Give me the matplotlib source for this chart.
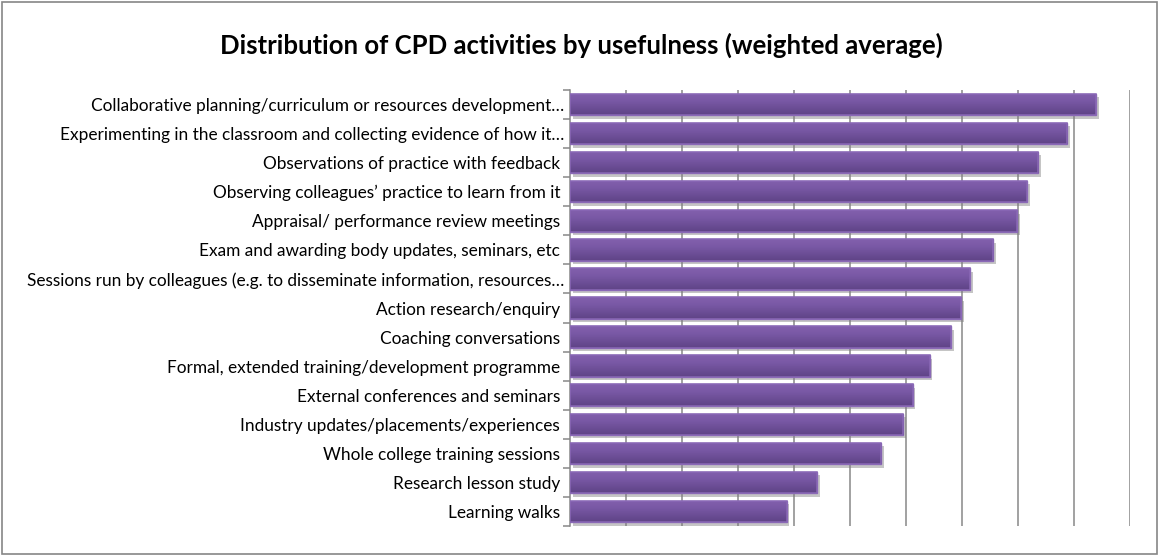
import numpy as np
import matplotlib
matplotlib.use("Agg")
import matplotlib.pyplot as plt
import matplotlib.patheffects as pe
from matplotlib.colors import LinearSegmentedColormap
from matplotlib.patches import Rectangle

plt.rcParams["font.family"] = ["Lato", "DejaVu Sans"]

# ── data (top to bottom as shown) ────────────────────────────────────────────
activities = [
    "Collaborative planning/curriculum or resources development\u2026",
    "Experimenting in the classroom and collecting evidence of how it\u2026",
    "Observations of practice with feedback ",
    "Observing colleagues\u2019 practice to learn from it ",
    "Appraisal/ performance review meetings ",
    "Exam and awarding body updates, seminars, etc ",
    "Sessions run by colleagues (e.g. to disseminate information, resources\u2026",
    "Action research/enquiry ",
    "Coaching conversations ",
    "Formal, extended training/development programme ",
    "External conferences and seminars ",
    "Industry updates/placements/experiences ",
    "Whole college training sessions ",
    "Research lesson study ",
    "Learning walks ",
]
weighted_avg = [9.39, 8.88, 8.36, 8.16, 7.98, 7.56, 7.14, 6.98, 6.80,
                6.42, 6.12, 5.95, 5.56, 4.41, 3.87]

W, H = 1158, 555
fig = plt.figure(figsize=(W / 100, H / 100), dpi=100)
fig.patch.set_facecolor("white")

# chart border
fig.add_artist(Rectangle((1.5 / W, 1.5 / H), 1 - 3 / W, 1 - 3 / H,
                         transform=fig.transFigure, fill=False,
                         edgecolor="#868686", linewidth=1.2))

ax = fig.add_axes([570 / W, (H - 526) / H, 560 / W, 436 / H])

y = np.arange(len(activities))
bars = ax.barh(y, weighted_avg, height=0.74, color="#7453a0",
               edgecolor="#8d6db8", linewidth=1.0, zorder=3)

# soft drop shadow + vertical gradient inside each bar (light on top)
grad = LinearSegmentedColormap.from_list(
    "purp", ["#5f4386", "#6c4e96", "#7a59a6", "#8260ad"])
gimg = np.linspace(1, 0, 64).reshape(-1, 1)
for b in bars:
    b.set_path_effects([pe.SimplePatchShadow(offset=(2, -2.5), shadow_rgbFace="#7f7f7f",
                                             alpha=0.45), pe.Normal()])
    x0, y0 = b.get_x(), b.get_y()
    w, h = b.get_width(), b.get_height()
    im = ax.imshow(gimg, extent=(x0, x0 + w, y0 + h, y0), origin="upper",
                   aspect="auto", cmap=grad, zorder=3.5, interpolation="bilinear")
    im.set_clip_path(b)
    edge = Rectangle((x0, y0), w, h, fill=False, edgecolor="#8a68b6",
                     linewidth=1.1, zorder=4)
    ax.add_patch(edge)

ax.set_xlim(0, 10)
ax.set_ylim(len(activities) - 0.5, -0.5)

ax.set_xticks(np.arange(1, 11))
ax.xaxis.grid(True, color="#878787", linewidth=1.1, zorder=0)
ax.set_axisbelow(True)
ax.tick_params(axis="x", length=0, labelbottom=False)

ax.set_yticks(y)
ax.set_yticklabels(activities, fontsize=12.4, color="#000000")
ax.set_yticks(np.arange(-0.5, len(activities)), minor=True)
ax.tick_params(axis="y", which="major", length=0, pad=4)
ax.tick_params(axis="y", which="minor", length=5, width=1.1, color="#878787")

for s in ["top", "right", "bottom"]:
    ax.spines[s].set_visible(False)
ax.spines["left"].set_color("#878787")
ax.spines["left"].set_linewidth(1.1)

fig.text(581 / W, 1 - 45 / H,
         "Distribution of CPD activities by usefulness (weighted average)",
         ha="center", va="center", fontsize=18.5, fontweight="bold")

fig.savefig("out.png", dpi=100)
